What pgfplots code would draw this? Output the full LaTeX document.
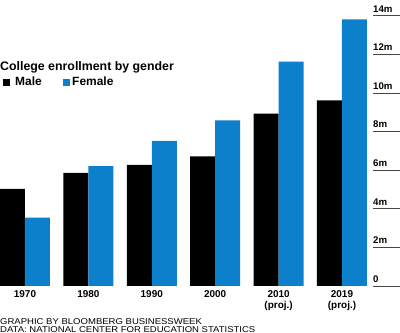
\documentclass[border=0pt]{standalone}
\usepackage{pgfplots}
\pgfplotsset{compat=1.18}
\usepackage{fontspec}
\setmainfont{Liberation Sans}
\definecolor{female}{RGB}{12,128,202}
\definecolor{tickgray}{RGB}{70,70,70}
\begin{document}
\begin{tikzpicture}
\begin{axis}[
  scale only axis, width=400bp, height=270bp,
  xmin=-0.394, xmax=5.915, ymin=0, ymax=14,
  ybar=0pt, bar width=25bp,
  axis line style={draw=none},
  xtick={0,...,5},
  xticklabels={1970,1980,1990,2000,{2010\\(proj.)},{2019\\(proj.)}},
  x tick style={draw=none},
  xticklabel style={align=center, anchor=north, inner sep=0pt, yshift=-4.7bp,
    font=\bfseries\fontsize{10}{10.7}\selectfont},
  ytick={0,2,...,14},
  yticklabels={0,2m,4m,6m,8m,10m,12m,14m},
  ytick pos=right, yticklabel pos=right,
  tick align=inside, major tick length=27bp,
  y tick style={tickgray, line width=1bp},
  yticklabel style={anchor=south west, inner sep=0pt, xshift=-27bp, yshift=3.5bp,
    font=\bfseries\fontsize{9.7}{9.7}\selectfont},
  /pgf/number format/assume math mode=true,
]
\addplot[fill=black, draw=none] coordinates {(0,5.04) (1,5.87) (2,6.28) (3,6.72) (4,8.94) (5,9.63)};
\addplot[fill=female, draw=none] coordinates {(0,3.54) (1,6.22) (2,7.53) (3,8.59) (4,11.64) (5,13.82)};
\coordinate (O) at (rel axis cs:0,0);
\end{axis}
\node[anchor=base west, inner sep=0pt, font=\bfseries\fontsize{12.4}{14}\selectfont] at ([yshift=215bp]O) {College enrollment by gender};
\fill[black] ([xshift=3bp,yshift=200bp]O) rectangle ++(7bp,7bp);
\node[anchor=base west, inner sep=0pt, font=\bfseries\fontsize{12}{14}\selectfont] at ([xshift=15bp,yshift=200bp]O) {Male};
\fill[female] ([xshift=62.5bp,yshift=200bp]O) rectangle ++(7bp,7bp);
\node[anchor=base west, inner sep=0pt, font=\bfseries\fontsize{12}{14}\selectfont] at ([xshift=72bp,yshift=200bp]O) {Female};
\node[anchor=base west, inner sep=0pt, font=\fontsize{8.5}{8.5}\selectfont] at ([yshift=-38bp]O) {\scalebox{1.125}[1]{GRAPHIC BY BLOOMBERG BUSINESSWEEK}};
\node[anchor=base west, inner sep=0pt, font=\fontsize{8.5}{8.5}\selectfont] at ([yshift=-46.3bp]O) {\scalebox{1.125}[1]{DATA: NATIONAL CENTER FOR EDUCATION STATISTICS}};
\pgfresetboundingbox
\path ([yshift=-47bp]O) rectangle ([xshift=400bp,yshift=286bp]O);
\end{tikzpicture}
\end{document}
